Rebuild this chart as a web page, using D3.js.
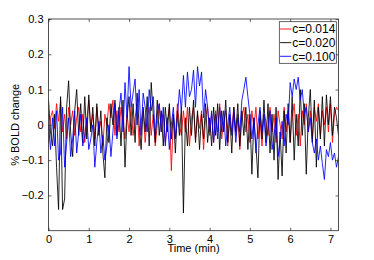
<!DOCTYPE html>
<html>
<head>
<meta charset="UTF-8">
<script src="https://d3js.org/d3.v7.min.js"></script>
<style>
  body { margin: 0; background: #fff; }
  text { font-family: "Liberation Sans", Arial, sans-serif; }
</style>
</head>
<body>
<div id="chart"></div>
<script>
// sample step in minutes (0 .. 7.2)
var step = 0.05;
var seriesNames = ["c=0.014", "c=0.020", "c=0.100"];
var seriesColors = ["#ff0000", "#000000", "#0000ff"];
var xTicks = [0, 1, 2, 3, 4, 5, 6, 7];
var yTicks = [-0.2, -0.1, 0, 0.1, 0.2, 0.3];

var red014 = [
  -0.05, 0.02, 0.04, -0.01, 0.06, 0.01, 0.07, -0.02, 0.03, -0.04,
  0.05, 0.0, 0.04, -0.03, 0.02, 0.05, -0.02, 0.03, -0.05, 0.01,
  0.07, -0.01, 0.03, -0.04, 0.05, -0.02, 0.01, -0.06, 0.03, 0.0,
  0.06, 0.02, 0.07, -0.03, 0.04, -0.02, 0.05, 0.01, -0.04, 0.03,
  -0.02, 0.05, -0.03, 0.02, 0.06, -0.06, 0.01, 0.04, -0.05, 0.02,
  0.05, -0.03, 0.03, -0.06, 0.0, 0.06, -0.02, 0.03, -0.05, 0.01,
  0.05, -0.13, 0.02, -0.04, 0.06, 0.0, -0.03, 0.04, -0.02, 0.05,
  -0.06, 0.02, 0.05, -0.04, 0.03, -0.01, 0.04, -0.07, 0.02, 0.05,
  -0.03, 0.03, -0.05, 0.04, -0.02, 0.06, -0.04, 0.01, 0.04, -0.06,
  0.02, -0.02, 0.05, -0.03, 0.03, -0.07, 0.02, 0.05, -0.02, 0.03,
  -0.05, 0.04, -0.01, 0.05, -0.04, 0.02, -0.06, 0.03, 0.01, -0.03,
  0.05, -0.02, 0.03, -0.05, 0.04, 0.0, -0.04, 0.05, -0.02, 0.04,
  -0.05, 0.02, 0.06, -0.03, 0.03, -0.06, 0.04, 0.0, 0.06, -0.02,
  0.04, -0.04, 0.05, 0.01, 0.06, -0.03, 0.04, 0.0, 0.05, -0.02,
  0.06, -0.05, 0.03, 0.05, 0.04
];

var black020 = [
  0.07, -0.02, -0.06, 0.03, -0.12, -0.24, 0.08, -0.24, -0.21, 0.05,
  0.125, -0.02, -0.09, 0.04, 0.1, -0.03, 0.06, -0.05, 0.08, -0.04,
  0.085, -0.02, 0.05, -0.06, 0.06, -0.03, 0.04, -0.08, -0.15, 0.02,
  -0.05, 0.06, 0.0, 0.07, -0.03, 0.05, -0.06, 0.07, -0.12, 0.02,
  0.08, -0.03, 0.06, -0.05, 0.09, 0.0, -0.07, 0.05, -0.02, 0.08,
  -0.06, 0.12, 0.03, -0.05, 0.07, -0.03, 0.04, -0.06, 0.05, -0.02,
  0.06, -0.04, 0.03, -0.08, 0.04, -0.03, 0.05, -0.25, 0.02, -0.06,
  0.05, -0.03, 0.07, -0.05, 0.04, -0.07, 0.03, -0.04, 0.06, -0.05,
  0.02, -0.06, 0.05, -0.03, 0.06, -0.07, 0.04, -0.02, 0.07, -0.05,
  0.03, -0.08, 0.05, -0.02, 0.06, -0.06, 0.04, -0.03, 0.05, -0.07,
  0.03, -0.14, 0.02, -0.06, -0.15, 0.04, -0.04, 0.07, -0.05, 0.06,
  -0.08, 0.03, -0.1, 0.05, -0.155, -0.02, -0.145, 0.04, -0.08, 0.06,
  -0.05, 0.08, -0.1, 0.03, -0.06, 0.1, -0.03, 0.06, -0.14, 0.02,
  0.1, -0.05, 0.07, -0.12, 0.05, -0.04, 0.08, -0.06, 0.085, 0.0,
  0.08, -0.03, 0.05, 0.02, -0.03
];

var blue100 = [
  0.0, -0.07, 0.02, -0.06, 0.04, -0.1, -0.08, 0.05, -0.12, -0.05,
  0.02, -0.09, -0.04, 0.04, -0.08, -0.02, 0.03, -0.06, -0.03, 0.02,
  -0.07, -0.04, 0.0, -0.12, -0.05, 0.01, -0.08, -0.03, -0.1, -0.06,
  0.0, -0.09, -0.02, 0.06, -0.04, 0.04, 0.09, -0.02, 0.12, 0.02,
  0.165, 0.05, 0.09, 0.13, 0.0, 0.1, -0.03, 0.09, 0.05, -0.02,
  0.1, 0.04, 0.08, -0.03, 0.03, 0.06, -0.02, 0.05, -0.06, 0.02,
  -0.07, 0.0, 0.05, -0.04, 0.02, 0.1, 0.04, 0.14, 0.05, 0.15,
  0.08, 0.1, 0.155, 0.05, 0.165, 0.11, 0.15, 0.02, 0.1, 0.05,
  -0.02, 0.04, -0.05, 0.03, -0.04, 0.05, -0.02, 0.04, -0.06, 0.0,
  0.05, -0.03, 0.04, -0.05, 0.02, -0.02, 0.07, 0.1, 0.135, 0.08,
  0.03, -0.04, 0.02, -0.08, 0.0, 0.05, -0.02, 0.03, -0.06, -0.01,
  0.04, -0.07, -0.03, 0.02, -0.09, -0.04, 0.01, -0.06, 0.03, 0.0,
  0.12, 0.08, 0.13, 0.1, 0.135, 0.07, 0.1, 0.03, 0.05, -0.02,
  0.02, -0.05, -0.08, -0.04, -0.1, -0.06, -0.11, -0.155, -0.07, -0.09,
  -0.05, -0.1, -0.08, -0.12, -0.09
];

var series = [red014, black020, blue100];

var W = 374, H = 260;
var margin = {top: 19, right: 35.5, bottom: 29.3, left: 48.5};
var width = W - margin.left - margin.right,
    height = H - margin.top - margin.bottom;

var svg = d3.select("#chart").append("svg")
    .attr("width", W)
    .attr("height", H);

var g = svg.append("g")
    .attr("transform", "translate(" + margin.left + "," + margin.top + ")");

var x = d3.scaleLinear().domain([0, 7.2]).range([0, width]);
var y = d3.scaleLinear().domain([-0.3, 0.3]).range([height, 0]);

g.append("clipPath").attr("id", "clip")
  .append("rect").attr("width", width).attr("height", height);

var line = d3.line()
    .x(function(d, i) { return x(i * step); })
    .y(function(d) { return y(d); });

var lines = g.append("g").attr("clip-path", "url(#clip)");
series.forEach(function(s, k) {
  lines.append("path")
    .datum(s)
    .attr("fill", "none")
    .attr("stroke", seriesColors[k])
    .attr("stroke-width", 1)
    .attr("stroke-opacity", 0.85)
    .attr("stroke-linejoin", "round")
    .attr("d", line);
});

var fmt = function(d) { return d === 0 ? "0" : d3.format(".1f")(d).replace("-", "\u2212"); };

// axes: ticks point inward, mirrored on top/right like matlab
g.append("g")
  .attr("transform", "translate(0," + height + ")")
  .call(d3.axisBottom(x).tickValues(xTicks).tickSize(-3).tickPadding(5).tickFormat(d3.format("d")));
g.append("g")
  .call(d3.axisTop(x).tickValues(xTicks).tickSize(-3).tickFormat(""));
g.append("g")
  .call(d3.axisLeft(y).tickValues(yTicks).tickSize(-3).tickPadding(5).tickFormat(fmt));
g.append("g")
  .attr("transform", "translate(" + width + ",0)")
  .call(d3.axisRight(y).tickValues(yTicks).tickSize(-3).tickFormat(""));

g.selectAll(".domain").remove();
g.selectAll(".tick line").attr("stroke", "#262626").attr("stroke-width", 0.7);
g.selectAll(".tick text").attr("font-size", 11).attr("fill", "#000")
  .style("font-family", "'Liberation Sans', Arial, sans-serif");

g.append("rect")
  .attr("width", width).attr("height", height)
  .attr("fill", "none").attr("stroke", "#262626").attr("stroke-width", 0.8);

// axis labels
g.append("text")
  .attr("x", x(3.6)).attr("y", height + 21.5)
  .attr("text-anchor", "middle")
  .attr("font-size", 11)
  .text("Time (min)");

g.append("text")
  .attr("transform", "translate(" + (-30) + "," + y(0) + ") rotate(-90)")
  .attr("text-anchor", "middle")
  .attr("font-size", 11)
  .text("% BOLD change");

// legend
var leg = g.append("g").attr("transform", "translate(230.8,2.7)");
leg.append("rect")
  .attr("width", 57).attr("height", 41.6)
  .attr("fill", "#fff").attr("stroke", "#262626").attr("stroke-width", 0.7);
seriesNames.forEach(function(name, k) {
  var yy = 7.3 + k * 13.65;
  leg.append("line")
    .attr("x1", 0.8).attr("x2", 12).attr("y1", yy).attr("y2", yy)
    .attr("stroke", seriesColors[k]).attr("stroke-width", 0.9);
  leg.append("text")
    .attr("x", 13).attr("y", yy + 4.3)
    .attr("font-size", 12)
    .text(name);
});
</script>
</body>
</html>
